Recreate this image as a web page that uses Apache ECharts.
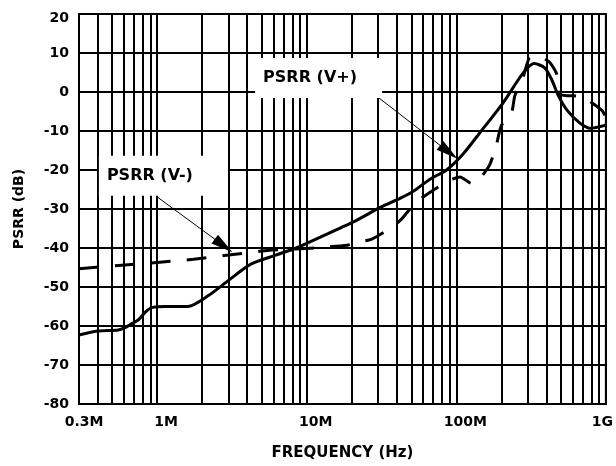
<!DOCTYPE html>
<html>
<head>
<meta charset="utf-8">
<script src="https://cdn.jsdelivr.net/npm/echarts@6/dist/echarts.min.js"></script>
<style>html,body{margin:0;padding:0;background:#fff}#c{width:616px;height:466px}</style>
</head>
<body>
<div id="c"></div>
<script>
// Frequencies in MHz
const freqPlus = [0.3, 0.4, 0.55, 0.62, 0.66, 0.75, 0.83, 0.92, 1.13, 1.6, 2.2, 3.0, 4.2, 6.0, 8.5, 12, 20.5, 31, 42, 51, 67, 86, 111, 144, 206, 280, 332, 390, 434, 482, 551, 668, 785, 1000];
const psrrPlus = [-62.3, -61.3, -61, -60.3, -59.6, -58.4, -56.5, -55.3, -55, -55, -52.2, -48.3, -44.2, -42, -40, -37.4, -33.3, -29.6, -27.3, -25.6, -22.3, -20, -15.9, -10.4, -2.7, 4.9, 7.3, 6.2, 3.2, -1, -4.7, -7.9, -9.3, -8.5];
const freqMinus = [0.3, 0.55, 1.0, 1.75, 3.0, 5.6, 10, 18.6, 22.7, 27, 34, 42, 53, 68, 91, 106, 127, 144, 168, 186, 200, 234, 246, 280, 308, 360, 423, 470, 495, 694, 940, 1000];
const psrrMinus = [-45.3, -44.5, -43.7, -42.9, -41.8, -40.6, -40.1, -39.3, -38.4, -37.8, -35.6, -33, -28.5, -25.5, -22.6, -21.8, -23.5, -22.2, -18.5, -13.3, -8.6, -5.4, -1, 3.9, 8.7, 9.1, 7.5, 4.5, -0.6, -1.2, -4.7, -6.5];
const minorFreqs = [0.4, 0.5, 0.6, 0.7, 0.8, 0.9, 2, 3, 4, 5, 6, 7, 8, 9, 20, 30, 40, 50, 60, 70, 80, 90, 200, 300, 400, 500, 600, 700, 800, 900];
const xTickLabels = {0.3: '0.3M', 1: '1M', 10: '10M', 100: '100M', 1000: '1G'};
const yTicks = [-80, -70, -60, -50, -40, -30, -20, -10, 0, 10, 20];
const labelPlus = 'PSRR (V+)';
const labelMinus = 'PSRR (V-)';

const FONT = 'DejaVu Sans';
const zip = (a, b) => a.map((v, i) => [v, b[i]]);

const chart = echarts.init(document.getElementById('c'), null, {renderer: 'canvas'});
chart.setOption({
  animation: false,
  backgroundColor: '#fff',
  grid: {left: 79, right: 10, top: 14, bottom: 62, show: true, borderColor: '#000', borderWidth: 2, containLabel: false},
  xAxis: {
    type: 'log', logBase: 10, min: 0.3, max: 1000,
    name: 'FREQUENCY (Hz)', nameLocation: 'middle', nameGap: 42,
    nameTextStyle: {fontFamily: FONT, fontWeight: 'bold', fontSize: 15, color: '#000'},
    axisLine: {show: false}, axisTick: {show: false},
    splitLine: {show: true, lineStyle: {color: '#000', width: 2}},
    axisLabel: {
      margin: 11, color: '#000', fontFamily: FONT, fontWeight: 'bold', fontSize: 14,
      showMinLabel: true, showMaxLabel: true,
      formatter: v => {
        const k = Number(Number(v).toPrecision(3));
        const t = xTickLabels[k];
        if (!t) return '';
        if (k === 1000) return '{e|' + t + '}';
        if (k === 0.3) return '{s|' + t + '}';
        return '{m|' + t + '}';
      },
      rich: {
        s: {fontFamily: FONT, fontWeight: 'bold', fontSize: 14, color: '#000', padding: [0, 0, 0, 10]},
        m: {fontFamily: FONT, fontWeight: 'bold', fontSize: 14, color: '#000', padding: [0, 0, 0, 18]},
        e: {fontFamily: FONT, fontWeight: 'bold', fontSize: 14, color: '#000', padding: [0, 7, 0, 0]}
      }
    }
  },
  yAxis: {
    type: 'value', min: yTicks[0], max: yTicks[yTicks.length - 1], interval: 10,
    name: 'PSRR (dB)', nameLocation: 'middle', nameGap: 53,
    nameTextStyle: {fontFamily: FONT, fontWeight: 'bold', fontSize: 14, color: '#000'},
    axisLine: {show: false}, axisTick: {show: false},
    splitLine: {show: true, lineStyle: {color: '#000', width: 2}},
    axisLabel: {
      margin: 10, color: '#000', fontFamily: FONT, fontWeight: 'bold', fontSize: 14,
      formatter: v => v === 20 ? '{t|20}' : String(v),
      rich: {t: {fontFamily: FONT, fontWeight: 'bold', fontSize: 14, color: '#000', padding: [8, 0, 0, 0]}}
    }
  },
  series: [
    {
      name: 'grid', type: 'line', data: [], z: 1, silent: true,
      markLine: {
        silent: true, symbol: ['none', 'none'], animation: false,
        label: {show: false},
        lineStyle: {color: '#000', width: 2, type: 'solid'},
        emphasis: {disabled: true},
        data: minorFreqs.map(v => ({xAxis: v}))
      }
    },
    {
      name: 'V+', type: 'line', data: zip(freqPlus, psrrPlus), z: 3,
      showSymbol: false, smooth: 0.25, silent: true,
      lineStyle: {color: '#000', width: 3}
    },
    {
      name: 'V-', type: 'line', data: zip(freqMinus, psrrMinus), z: 3,
      showSymbol: false, smooth: 0.2, silent: true,
      lineStyle: {color: '#000', width: 3, type: [20, 16]}
    },
    {
      name: 'notes', type: 'line', data: [], z: 5, silent: true,
      markLine: {
        silent: true, animation: false,
        label: {show: false},
        lineStyle: {color: '#000', width: 1, type: 'solid'},
        emphasis: {disabled: true},
        data: [
          [{coord: [1.0, -26.9], symbol: 'none'}, {coord: [2.78, -39.4], symbol: 'triangle', symbolSize: [11, 22]}],
          [{coord: [27, 0.0], symbol: 'none'}, {coord: [89, -15.4], symbol: 'triangle', symbolSize: [11, 22]}]
        ]
      },
      markPoint: {
        silent: true, animation: false,
        symbol: 'rect',
        itemStyle: {color: '#fff'},
        data: [
          {coord: [12, 3.6], symbolSize: [127, 40], value: labelPlus},
          {coord: [1.1, -21.5], symbolSize: [129, 40], value: labelMinus}
        ],
        label: {
          show: true, position: [8, 20], align: 'left', verticalAlign: 'middle',
          formatter: p => p.value,
          fontFamily: FONT, fontWeight: 'bold', fontSize: 16, color: '#000'
        }
      }
    }
  ]
});
</script>
</body>
</html>
